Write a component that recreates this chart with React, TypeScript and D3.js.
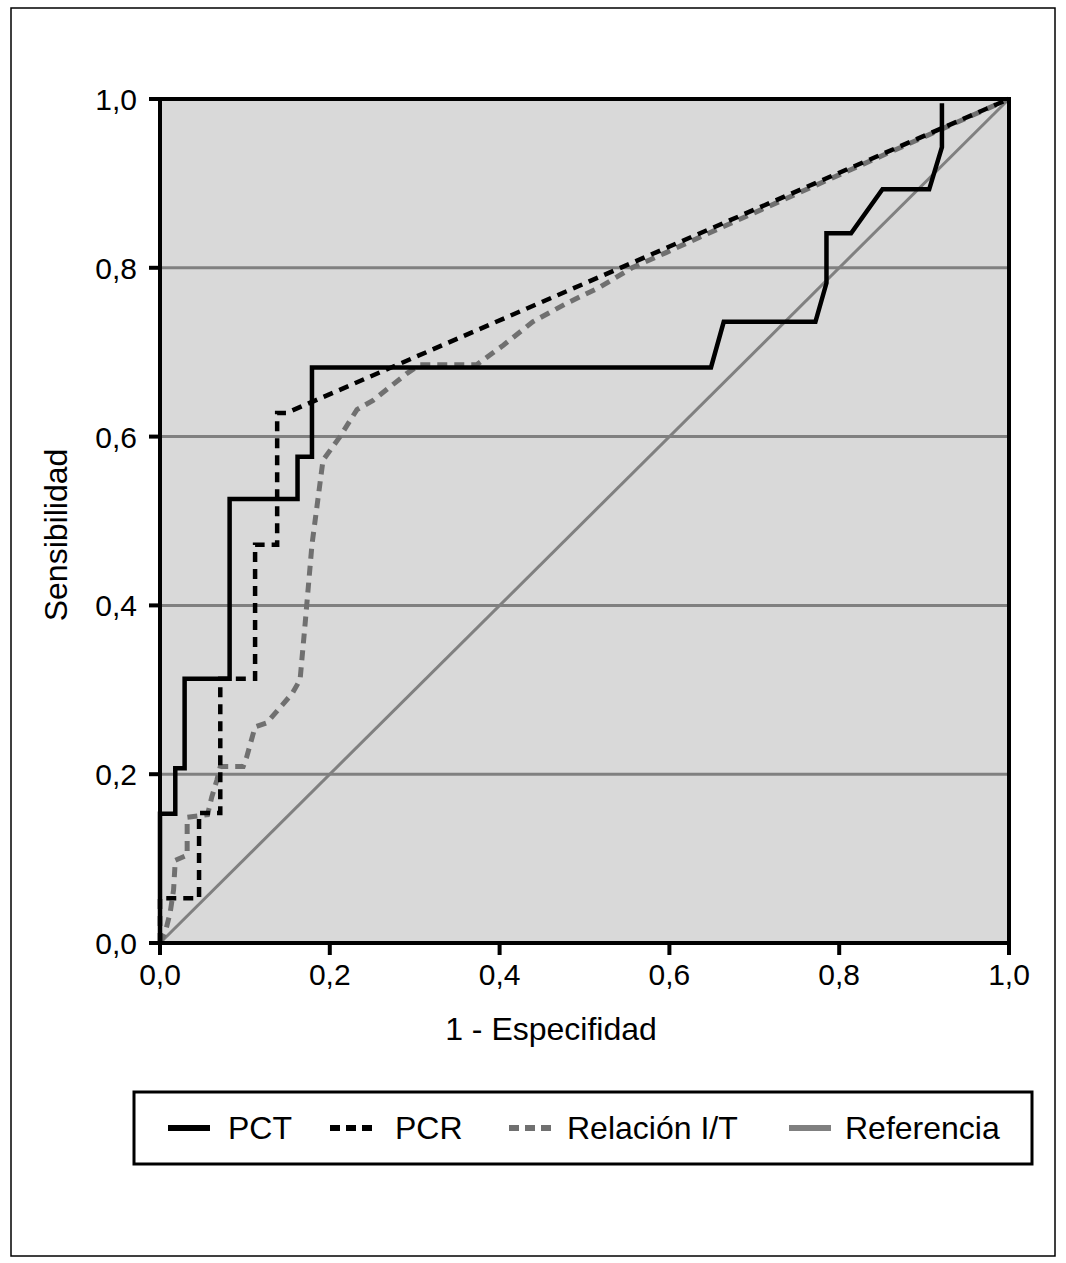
import React, { useEffect, useRef } from 'react';
import * as d3 from 'd3';

// tick values for both axes
const ticks = [0, 0.2, 0.4, 0.6, 0.8, 1.0];

// PCT curve (solid black)
const pctX = [0, 0, 0.018, 0.018, 0.029, 0.029, 0.082, 0.082, 0.162, 0.162, 0.179, 0.179, 0.649, 0.664, 0.772, 0.785, 0.785, 0.814, 0.851, 0.906, 0.921, 0.921];
const pctY = [0, 0.153, 0.153, 0.207, 0.207, 0.313, 0.313, 0.526, 0.526, 0.576, 0.576, 0.682, 0.682, 0.736, 0.736, 0.782, 0.841, 0.841, 0.893, 0.893, 0.943, 0.995];

// PCR curve (black dashed)
const pcrX = [0, 0, 0.046, 0.046, 0.071, 0.071, 0.112, 0.112, 0.138, 0.138, 0.149, 1];
const pcrY = [0, 0.053, 0.053, 0.154, 0.154, 0.313, 0.313, 0.472, 0.472, 0.628, 0.628, 1];

// Relación I/T curve (grey dashed)
const itX = [0, 0.006, 0.012, 0.016, 0.018, 0.032, 0.032, 0.056, 0.061, 0.067, 0.071, 0.098, 0.102, 0.112, 0.126, 0.156, 0.165, 0.171, 0.179, 0.192, 0.212, 0.232, 0.251, 0.291, 0.306, 0.373, 0.385, 0.404, 0.439, 0.479, 0.518, 0.556, 0.596, 0.635, 1];
const itY = [0, 0.012, 0.036, 0.063, 0.098, 0.104, 0.149, 0.152, 0.173, 0.193, 0.209, 0.209, 0.22, 0.256, 0.261, 0.296, 0.312, 0.379, 0.472, 0.572, 0.6, 0.632, 0.643, 0.675, 0.685, 0.685, 0.694, 0.708, 0.736, 0.758, 0.777, 0.8, 0.818, 0.836, 1];

// reference diagonal
const refX = [0, 1];
const refY = [0, 1];

const legendItems = [
  { label: 'PCT', color: '#000', dash: null as string | null, lx: 168, tx: 228 },
  { label: 'PCR', color: '#000', dash: '10,6', lx: 330, tx: 395 },
  { label: 'Relación I/T', color: '#707070', dash: '10,6', lx: 509, tx: 567 },
  { label: 'Referencia', color: '#808080', dash: null, lx: 789, tx: 845 },
];

const W = 1066;
const H = 1263;
const FONT = '"Liberation Sans", Arial, Helvetica, sans-serif';

const App: React.FC = () => {
  const svgRef = useRef<SVGSVGElement>(null);

  useEffect(() => {
    if (!svgRef.current) return;
    const svg = d3.select(svgRef.current);
    svg.selectAll('*').remove();

    const x = d3.scaleLinear().domain([0, 1]).range([160, 1009]);
    const y = d3.scaleLinear().domain([0, 1]).range([943, 99]);

    // outer frame
    svg.append('rect')
      .attr('x', 11).attr('y', 8)
      .attr('width', 1044).attr('height', 1248)
      .attr('fill', 'white').attr('stroke', '#000').attr('stroke-width', 1.5);

    // plot background
    svg.append('rect')
      .attr('x', x(0)).attr('y', y(1))
      .attr('width', x(1) - x(0)).attr('height', y(0) - y(1))
      .attr('fill', '#d9d9d9');

    // horizontal grid
    svg.append('g')
      .selectAll('line')
      .data(ticks.filter(t => t > 0 && t < 1))
      .enter()
      .append('line')
      .attr('x1', x(0)).attr('x2', x(1))
      .attr('y1', d => y(d)).attr('y2', d => y(d))
      .attr('stroke', '#808080').attr('stroke-width', 3);

    const line = (xs: number[], ys: number[]) =>
      d3.line<number>().x((_, i) => x(xs[i])).y((_, i) => y(ys[i]))(xs) || '';

    // reference
    svg.append('path').attr('d', line(refX, refY))
      .attr('fill', 'none').attr('stroke', '#808080').attr('stroke-width', 3);

    // Relación I/T
    svg.append('path').attr('d', line(itX, itY))
      .attr('fill', 'none').attr('stroke', '#707070').attr('stroke-width', 5)
      .attr('stroke-dasharray', '10,7');

    // PCR
    svg.append('path').attr('d', line(pcrX, pcrY))
      .attr('fill', 'none').attr('stroke', '#000').attr('stroke-width', 4.5)
      .attr('stroke-dasharray', '10,7');

    // PCT
    svg.append('path').attr('d', line(pctX, pctY))
      .attr('fill', 'none').attr('stroke', '#000').attr('stroke-width', 4.5)
      .attr('stroke-linejoin', 'miter');

    // plot border
    svg.append('rect')
      .attr('x', x(0)).attr('y', y(1))
      .attr('width', x(1) - x(0)).attr('height', y(0) - y(1))
      .attr('fill', 'none').attr('stroke', '#000').attr('stroke-width', 4);

    // y axis ticks + labels
    const yAxis = svg.append('g');
    yAxis.selectAll('line').data(ticks).enter().append('line')
      .attr('x1', x(0) - 11).attr('x2', x(0))
      .attr('y1', d => y(d)).attr('y2', d => y(d))
      .attr('stroke', '#000').attr('stroke-width', 4);
    yAxis.selectAll('text').data(ticks).enter().append('text')
      .attr('x', 137).attr('y', d => y(d) + 11)
      .attr('text-anchor', 'end')
      .style('font-family', FONT).style('font-size', '30px')
      .text(d => d.toFixed(1).replace('.', ','));

    // x axis ticks + labels
    const xAxis = svg.append('g');
    xAxis.selectAll('line').data(ticks).enter().append('line')
      .attr('x1', d => x(d)).attr('x2', d => x(d))
      .attr('y1', y(0)).attr('y2', y(0) + 12)
      .attr('stroke', '#000').attr('stroke-width', 4);
    xAxis.selectAll('text').data(ticks).enter().append('text')
      .attr('x', d => x(d)).attr('y', 985)
      .attr('text-anchor', 'middle')
      .style('font-family', FONT).style('font-size', '30px')
      .text(d => d.toFixed(1).replace('.', ','));

    // axis titles
    svg.append('text')
      .attr('x', 551).attr('y', 1040)
      .attr('text-anchor', 'middle')
      .style('font-family', FONT).style('font-size', '32px')
      .text('1 - Especifidad');
    svg.append('text')
      .attr('transform', 'translate(67,535) rotate(-90)')
      .attr('text-anchor', 'middle')
      .style('font-family', FONT).style('font-size', '32px')
      .text('Sensibilidad');

    // legend
    const lg = svg.append('g');
    lg.append('rect')
      .attr('x', 134).attr('y', 1092)
      .attr('width', 898).attr('height', 72)
      .attr('fill', 'white').attr('stroke', '#000').attr('stroke-width', 3);
    legendItems.forEach(it => {
      const l = lg.append('line')
        .attr('x1', it.lx).attr('x2', it.lx + 42)
        .attr('y1', 1128).attr('y2', 1128)
        .attr('stroke', it.color).attr('stroke-width', 6);
      if (it.dash) l.attr('stroke-dasharray', it.dash);
      lg.append('text')
        .attr('x', it.tx).attr('y', 1139)
        .style('font-family', FONT).style('font-size', '32px')
        .text(it.label);
    });
  }, []);

  return (
    <svg ref={svgRef} width={W} height={H}
      style={{ position: 'absolute', left: 0, top: 0, display: 'block' }} />
  );
};

export default App;
